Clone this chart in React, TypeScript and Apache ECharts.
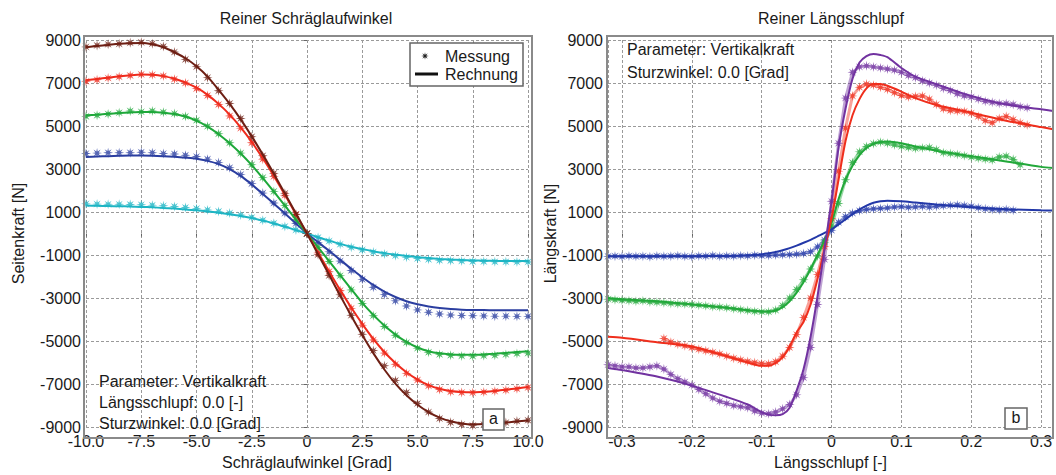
import React, { useEffect, useRef } from "react";
import * as echarts from "echarts";

// ---------- left chart: Reiner Schräglaufwinkel ----------
const ANGLE = [-10, -9.5, -9, -8.5, -8, -7.5, -7, -6.5, -6, -5.5, -5, -4.5, -4, -3.5, -3, -2.5, -2, -1.5, -1, -0.5, 0, 0.5, 1, 1.5, 2, 2.5, 3, 3.5, 4, 4.5, 5, 5.5, 6, 6.5, 7, 7.5, 8, 8.5, 9, 9.5, 10];

const brownCalc = [8660, 8720, 8770, 8820, 8850, 8860, 8800, 8660, 8430, 8150, 7780, 7300, 6680, 6030, 5310, 4520, 3670, 2780, 1860, 930, 0, -960, -1920, -2880, -3820, -4720, -5560, -6320, -6980, -7520, -7960, -8300, -8560, -8730, -8830, -8870, -8860, -8830, -8790, -8740, -8690];
const redCalc = [7130, 7190, 7250, 7310, 7360, 7390, 7380, 7320, 7200, 7020, 6780, 6450, 6030, 5530, 4940, 4260, 3500, 2680, 1800, 900, 0, -880, -1760, -2620, -3440, -4200, -4900, -5510, -6020, -6450, -6790, -7050, -7220, -7320, -7370, -7380, -7360, -7320, -7260, -7200, -7140];
const greenCalc = [5500, 5530, 5570, 5600, 5630, 5650, 5650, 5620, 5560, 5440, 5250, 4970, 4620, 4200, 3720, 3180, 2580, 1950, 1300, 650, 0, -640, -1280, -1930, -2580, -3220, -3780, -4280, -4700, -5040, -5300, -5470, -5570, -5620, -5640, -5640, -5620, -5590, -5550, -5510, -5470];
const blueCalc = [3560, 3580, 3600, 3615, 3625, 3625, 3620, 3600, 3570, 3530, 3480, 3380, 3230, 3000, 2680, 2280, 1840, 1390, 930, 470, 0, -400, -800, -1220, -1640, -2030, -2390, -2700, -2950, -3150, -3290, -3390, -3460, -3510, -3540, -3555, -3560, -3565, -3565, -3565, -3565];
const cyanCalc = [1300, 1290, 1280, 1270, 1260, 1240, 1220, 1190, 1160, 1120, 1080, 1030, 970, 900, 820, 720, 600, 470, 320, 160, 0, -170, -330, -480, -610, -720, -820, -910, -980, -1040, -1100, -1140, -1180, -1210, -1230, -1250, -1260, -1270, -1275, -1280, -1280];

const brownMeas = [8680, 8750, 8800, 8820, 8870, 8890, 8830, 8700, 8440, 8100, 7760, 7250, 6640, 6050, 5350, 4500, 3620, 2800, 1870, 900, 0, -980, -1950, -2850, -3800, -4680, -5440, -6150, -6830, -7390, -7900, -8300, -8600, -8780, -8880, -8930, -8880, -8860, -8790, -8720, -8680];
const redMeas = [7080, 7150, 7230, 7290, 7350, 7400, 7380, 7330, 7180, 7000, 6740, 6420, 6000, 5470, 4900, 4220, 3460, 2660, 1780, 880, 0, -900, -1770, -2650, -3480, -4260, -4950, -5560, -6080, -6500, -6810, -7080, -7250, -7360, -7390, -7400, -7370, -7330, -7280, -7220, -7160];
const greenMeas = [5450, 5500, 5560, 5620, 5700, 5660, 5700, 5640, 5580, 5450, 5270, 4990, 4640, 4220, 3740, 3200, 2600, 1960, 1310, 660, 0, -650, -1300, -1960, -2620, -3250, -3820, -4320, -4730, -5070, -5330, -5520, -5620, -5660, -5690, -5700, -5680, -5660, -5620, -5580, -5560];
const blueMeas = [3720, 3740, 3760, 3760, 3760, 3780, 3760, 3720, 3700, 3640, 3580, 3460, 3300, 3060, 2740, 2320, 1880, 1420, 950, 470, 0, -420, -850, -1280, -1720, -2130, -2500, -2840, -3130, -3370, -3550, -3660, -3740, -3790, -3810, -3820, -3830, -3840, -3840, -3850, -3850];
const cyanMeas = [1380, 1370, 1360, 1360, 1350, 1340, 1320, 1290, 1260, 1210, 1160, 1100, 1030, 950, 860, 750, 620, 480, 330, 170, 0, -180, -350, -500, -640, -760, -860, -950, -1030, -1100, -1160, -1200, -1240, -1260, -1280, -1300, -1300, -1310, -1310, -1320, -1320];

// ---------- right chart: Reiner Längsschlupf ----------
const SLIP_CALC = [-0.32, -0.3, -0.25, -0.2, -0.15, -0.12, -0.1, -0.09, -0.08, -0.07, -0.06, -0.05, -0.04, -0.03, -0.02, -0.01, 0, 0.01, 0.02, 0.03, 0.04, 0.05, 0.06, 0.07, 0.08, 0.1, 0.12, 0.15, 0.2, 0.25, 0.3, 0.317];
const blueLCalc = [-1060, -1060, -1060, -1055, -1040, -1010, -960, -920, -860, -780, -680, -560, -430, -290, -130, 30, 200, 420, 660, 900, 1120, 1300, 1430, 1500, 1530, 1500, 1440, 1350, 1220, 1130, 1080, 1070];
const greenLCalc = [-3000, -3050, -3150, -3300, -3450, -3570, -3620, -3630, -3580, -3420, -3150, -2750, -2250, -1650, -1000, -300, 500, 1600, 2500, 3150, 3650, 3980, 4170, 4260, 4280, 4200, 4050, 3850, 3600, 3350, 3100, 3050];
const redLCalc = [-4800, -4850, -5050, -5250, -5700, -6000, -6150, -6150, -6020, -5750, -5250, -4600, -4100, -3300, -2100, -700, 700, 2500, 4300, 5500, 6250, 6750, 6950, 6950, 6870, 6600, 6300, 5980, 5620, 5250, 4950, 4850];
const purpleLCalc = [-6250, -6350, -6650, -7070, -7600, -7950, -8300, -8420, -8450, -8400, -8100, -7300, -6300, -4800, -2900, -700, 1500, 4000, 5800, 7200, 7950, 8250, 8350, 8300, 8200, 7700, 7300, 6950, 6400, 6000, 5780, 5700];

const SLIP_MEAS = [-0.32, -0.31, -0.3, -0.29, -0.28, -0.27, -0.26, -0.25, -0.24, -0.23, -0.22, -0.21, -0.2, -0.19, -0.18, -0.17, -0.16, -0.15, -0.14, -0.13, -0.12, -0.11, -0.1, -0.09, -0.08, -0.07, -0.06, -0.05, -0.04, -0.03, -0.02, -0.01, 0, 0.01, 0.02, 0.03, 0.04, 0.05, 0.06, 0.07, 0.08, 0.09, 0.1, 0.11, 0.12, 0.13, 0.14, 0.15, 0.16, 0.17, 0.18, 0.19, 0.2, 0.21, 0.22, 0.23, 0.24, 0.25, 0.26, 0.27, 0.28];
const blueLMeas = [-1060, -1050, -1070, -1040, -1060, -1050, -1080, -1040, -1060, -1050, -1030, -1060, -1070, -1040, -1050, -1020, -1060, -1040, -1050, -1030, -1040, -1010, -1030, -1020, -1000, -990, -980, -960, -930, -850, -620, -300, 150, 520, 780, 950, 1060, 1120, 1150, 1170, 1190, 1230, 1250, 1220, 1240, 1260, 1230, 1260, 1290, 1310, 1330, 1300, 1260, 1200, 1150, 1120, 1100, 1120, 1080, null, null];
const greenLMeas = [-3050, -3080, -3100, -3120, -3150, -3130, -3180, -3200, -3220, -3250, -3270, -3280, -3300, -3330, -3360, -3400, -3420, -3450, -3500, -3540, -3580, -3620, -3640, -3640, -3560, -3350, -3000, -2600, -2150, -1650, -1050, -400, 350, 1400, 2500, 3300, 3800, 4050, 4180, 4250, 4200, 4120, 4050, 4000, 3960, 3980, 4000, 3900, 3760, 3720, 3680, 3620, 3560, 3500, 3460, 3420, 3560, 3600, 3450, 3200, null];
const redLMeas = [null, null, null, null, null, null, null, null, -4880, -5050, -5150, -5220, -5300, -5380, -5450, -5520, -5600, -5700, -5800, -5880, -5950, -6000, -6050, -6060, -5960, -5700, -5300, -4700, -3900, -3000, -1900, -600, 700, 2900, 4900, 6400, 6800, 6950, 6900, 6800, 6700, 6550, 6420, 6350, 6380, 6400, 6250, 6000, 5800, 5720, 5700, 5680, 5600, 5450, 5250, 5150, 5350, 5450, 5300, 5150, 5050];
const purpleLMeas = [-6100, -6150, -6200, -6200, -6250, -6250, -6200, -6150, -6300, -6550, -6750, -6900, -7050, -7250, -7450, -7650, -7800, -7900, -8000, -8050, -8100, -8250, -8350, -8380, -8300, -8150, -7950, -7500, -6700, -5300, -3300, -1200, 1500, 4200, 6300, 7500, 7750, 7800, 7750, 7700, 7650, 7600, 7500, 7350, 7250, 7100, 7000, 6900, 6750, 6650, 6500, 6400, 6350, 6250, 6150, 6100, 6050, 6050, 6000, 5900, 5850];

const Y_TICKS_MIN = -9000;
const Y_TICKS_MAX = 9000;

const FONT = '"Liberation Sans", Arial, Helvetica, sans-serif';
const TXT = "#1a1a1a";
const STAR = "path://M10,5 L6.66,5.69 L8.536,8.536 L5.69,6.66 L5,10 L4.31,6.66 L1.464,8.536 L3.34,5.69 L0,5 L3.34,4.31 L1.464,1.464 L4.31,3.34 L5,0 L5.69,3.34 L8.536,1.464 L6.66,4.31 Z";
const STAR_PTS = [[10, 5], [6.66, 5.69], [8.536, 8.536], [5.69, 6.66], [5, 10], [4.31, 6.66], [1.464, 8.536], [3.34, 5.69], [0, 5], [3.34, 4.31], [1.464, 1.464], [4.31, 3.34], [5, 0], [5.69, 3.34], [8.536, 1.464], [6.66, 4.31]];

const zip = (xs: number[], ys: (number | null)[]) =>
  xs.map((x, i) => [x, ys[i]]);

export default function App() {
  const ref = useRef<HTMLDivElement>(null);
  useEffect(() => {
    if (!ref.current) return;
    const chart = echarts.init(ref.current, undefined, { renderer: "svg" });

    const gridLine = { show: true, lineStyle: { color: "#9a9a9a", type: [3, 2] as any, width: 1 } };
    const yAxisCommon = (gi: number, name: string, gap: number) => ({
      gridIndex: gi,
      type: "value",
      min: Y_TICKS_MIN,
      max: Y_TICKS_MAX,
      interval: 2000,
      axisLine: { show: false },
      axisTick: { show: true, length: 3, lineStyle: { color: "#666" } },
      axisLabel: { formatter: (v: number) => String(v), fontSize: 16, color: TXT, fontFamily: FONT, margin: 5 },
      splitLine: gridLine,
      name,
      nameLocation: "middle",
      nameGap: gap,
      nameTextStyle: { fontSize: 16, color: TXT, fontFamily: FONT },
    });

    const leftSets = [
      { calc: cyanCalc, meas: cyanMeas, color: "#1db5c4" },
      { calc: blueCalc, meas: blueMeas, color: "#2b3ea0" },
      { calc: greenCalc, meas: greenMeas, color: "#1ea83a" },
      { calc: redCalc, meas: redMeas, color: "#ef2b1d" },
      { calc: brownCalc, meas: brownMeas, color: "#6e1f14" },
    ];
    const rightSets = [
      { calc: blueLCalc, meas: blueLMeas, color: "#2338a8" },
      { calc: greenLCalc, meas: greenLMeas, color: "#22a83a" },
      { calc: redLCalc, meas: redLMeas, color: "#ef2e1c" },
      { calc: purpleLCalc, meas: purpleLMeas, color: "#7132a0" },
    ];

    const series: any[] = [];
    leftSets.forEach((s) => {
      series.push({
        type: "scatter", xAxisIndex: 0, yAxisIndex: 0, data: zip(ANGLE, s.meas),
        symbol: STAR, symbolSize: 10, itemStyle: { color: s.color, opacity: 0.8 }, z: 2,
      });
    });
    leftSets.forEach((s) => {
      series.push({
        type: "line", xAxisIndex: 0, yAxisIndex: 0, data: zip(ANGLE, s.calc),
        showSymbol: false, smooth: 0.3, lineStyle: { color: s.color, width: 2 }, z: 3,
      });
    });
    rightSets.forEach((s) => {
      series.push({
        type: "line", xAxisIndex: 1, yAxisIndex: 1, data: zip(SLIP_MEAS, s.meas),
        showSymbol: true, symbol: STAR, symbolSize: 10, connectNulls: false,
        itemStyle: { color: s.color, opacity: 0.75 },
        lineStyle: { color: s.color, width: 3, opacity: 0.45 }, z: 2,
      });
    });
    rightSets.forEach((s) => {
      series.push({
        type: "line", xAxisIndex: 1, yAxisIndex: 1, data: zip(SLIP_CALC, s.calc),
        showSymbol: false, smooth: 0.25, lineStyle: { color: s.color, width: 2 }, z: 3,
      });
    });

    const legendStar = STAR_PTS.map(([x, y]) => [425 + (x - 5) * 0.75, 56 + (y - 5) * 0.75]);

    const text = (t: string, x: number, y: number, align = "left") => ({
      type: "text", x, y, z: 100,
      style: { text: t, font: `16px ${FONT}`, fill: TXT, align, verticalAlign: "middle" },
    });

    chart.setOption({
      animation: false,
      backgroundColor: "#ffffff",
      grid: [
        { left: 86, right: 1056 - 528, top: 40, bottom: 475 - 434 },
        { left: 608, right: 3, top: 40, bottom: 475 - 434 },
      ],
      xAxis: [
        {
          gridIndex: 0, type: "value", min: -10, max: 10, interval: 2.5,
          axisLine: { show: false },
          axisTick: { show: true, length: 3, lineStyle: { color: "#666" } },
          axisLabel: { formatter: (v: number) => (v === 0 ? "0" : v.toFixed(1)), fontSize: 16, color: TXT, fontFamily: FONT, margin: 6 },
          splitLine: gridLine,
          name: "Schräglaufwinkel [Grad]", nameLocation: "middle", nameGap: 25,
          nameTextStyle: { fontSize: 16, color: TXT, fontFamily: FONT },
        },
        {
          gridIndex: 1, type: "value", min: -0.32, max: 0.317,
          axisLine: { show: false },
          axisTick: { show: true, length: 3, lineStyle: { color: "#666" } },
          axisLabel: { showMinLabel: false, showMaxLabel: false, fontSize: 16, color: TXT, fontFamily: FONT, margin: 6 },
          splitLine: gridLine,
          name: "Längsschlupf [-]", nameLocation: "middle", nameGap: 25,
          nameTextStyle: { fontSize: 16, color: TXT, fontFamily: FONT },
        },
      ],
      yAxis: [yAxisCommon(0, "Seitenkraft [N]", 60), yAxisCommon(1, "Längskraft [N]", 46)],
      series,
      graphic: [
        { type: "rect", z: 90, shape: { x: 84, y: 36, width: 448, height: 402 }, style: { fill: "none", stroke: "#8a8a8a", lineWidth: 2 } },
        { type: "rect", z: 90, shape: { x: 607, y: 36, width: 446, height: 402 }, style: { fill: "none", stroke: "#8a8a8a", lineWidth: 2 } },
        text("Reiner Schräglaufwinkel", 306, 18, "center"),
        text("Reiner Längsschlupf", 831, 18, "center"),
        // legend
        { type: "rect", z: 95, shape: { x: 410, y: 43, width: 113, height: 43 }, style: { fill: "#fff", stroke: "#666", lineWidth: 1.5 } },
        { type: "polygon", z: 100, shape: { points: legendStar }, style: { fill: "#222" } },
        { type: "line", z: 100, shape: { x1: 415, y1: 74, x2: 438, y2: 74 }, style: { stroke: "#111", lineWidth: 3 } },
        text("Messung", 445, 56),
        text("Rechnung", 445, 74),
        // annotations
        text("Parameter: Vertikalkraft", 99, 381),
        text("Längsschlupf: 0.0 [-]", 99, 402),
        text("Sturzwinkel: 0.0 [Grad]", 99, 423),
        text("Parameter: Vertikalkraft", 627, 49),
        text("Sturzwinkel: 0.0 [Grad]", 627, 72),
        // panel letters
        { type: "rect", z: 95, shape: { x: 483, y: 409, width: 21, height: 21 }, style: { fill: "#fff", stroke: "#666", lineWidth: 1.5 } },
        text("a", 493.5, 418, "center"),
        { type: "rect", z: 95, shape: { x: 1005, y: 408, width: 22, height: 21 }, style: { fill: "#fff", stroke: "#666", lineWidth: 1.5 } },
        text("b", 1016, 417, "center"),
      ],
    });

    return () => chart.dispose();
  }, []);

  return <div ref={ref} style={{ position: "fixed", left: 0, top: 0, width: 1056, height: 475 }} />;
}
